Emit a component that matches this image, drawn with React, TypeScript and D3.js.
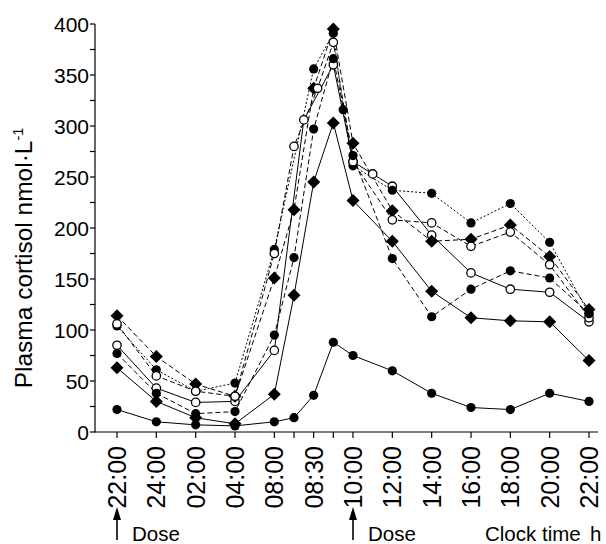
import * as d3 from 'd3';
import React, { useRef, useEffect } from 'react';

// x positions are in "slot" units along the clock-time axis (08:00 -> 10:00 is spread over half slots)
const tickPos = [0, 1, 2, 3, 4, 4.5, 5, 5.5, 6, 7, 8, 9, 10, 11, 12];
const tickLabels = ["22:00", "24:00", "02:00", "04:00", "08:00", "", "08:30", "", "10:00", "12:00", "14:00", "16:00", "18:00", "20:00", "22:00"];
const yTicks = [0, 50, 100, 150, 200, 250, 300, 350, 400];
const yMinor = [25, 75, 125, 175, 225, 275, 325, 375];

const s1T = tickPos;
const s1V = [22, 10, 7, 6, 10, 14, 36, 88, 75, 60, 38, 24, 22, 38, 30];
const s2T = tickPos;
const s2V = [63, 30, 14, 8, 37, 134, 245, 303, 227, 187, 138, 112, 109, 108, 70];
const s3T = [0, 1, 2, 3, 4, 4.75, 5.5, 6, 6.5, 7, 8, 9, 10, 11, 12];
const s3V = [85, 43, 29, 30, 80, 306, 360, 265, 253, 241, 193, 156, 140, 137, 108];
const s4T = [0, 1, 2, 3, 4, 5, 5.5, 5.75, 6, 7, 8, 9, 10, 11, 12];
const s4V = [104, 61, 40, 48, 179, 356, 391, 316, 261, 237, 234, 205, 224, 186, 116];
const s5T = tickPos;
const s5V = [114, 74, 47, 35, 151, 218, 337, 395, 283, 217, 187, 189, 203, 172, 120];
const s6T = [0, 1, 2, 3, 4, 4.5, 5.1, 5.5, 6, 7, 8, 9, 10, 11, 12];
const s6V = [106, 55, 40, 35, 175, 280, 337, 382, 265, 208, 205, 182, 196, 164, 112];
const s7T = tickPos;
const s7V = [77, 38, 18, 20, 95, 171, 297, 366, 271, 170, 113, 140, 158, 151, 116];

const series = [
    { t: s1T, v: s1V, dash: null, mark: "dot" },
    { t: s2T, v: s2V, dash: null, mark: "diamond" },
    { t: s3T, v: s3V, dash: null, mark: "open" },
    { t: s4T, v: s4V, dash: "2,2", mark: "dot" },
    { t: s5T, v: s5V, dash: "5,3", mark: "diamond" },
    { t: s6T, v: s6V, dash: "5,3", mark: "open" },
    { t: s7T, v: s7V, dash: "5,3", mark: "dot" },
];

const FONT = "'Liberation Sans', Arial, Helvetica, sans-serif";
const NARROW = "'Liberation Sans Narrow', 'Arial Narrow', 'Liberation Sans', sans-serif";

function Chart() {
    const ref = useRef(null);

    useEffect(() => {
        const svg = d3.select(ref.current);
        svg.selectAll('*').remove();

        const x = d3.scaleLinear().domain([0, 12]).range([117, 589]);
        const y = d3.scaleLinear().domain([0, 400]).range([432, 24]);
        const x0 = 95;

        // y axis
        svg.append("line").attr("x1", x0).attr("x2", x0).attr("y1", y(400)).attr("y2", y(0) + 0.5)
            .attr("stroke", "black").attr("stroke-width", 1.2);
        yTicks.concat(yMinor).forEach(v => {
            svg.append("line").attr("x1", x0 - 5).attr("x2", x0).attr("y1", y(v)).attr("y2", y(v))
                .attr("stroke", "black").attr("stroke-width", 1.2);
        });
        yTicks.forEach(v => {
            svg.append("text").attr("x", x0 - 6).attr("y", y(v)).attr("dy", "0.36em")
                .attr("text-anchor", "end").attr("font-family", FONT).attr("font-size", 21)
                .text(v);
        });

        // x axis
        svg.append("line").attr("x1", x0).attr("x2", 598).attr("y1", y(0)).attr("y2", y(0))
            .attr("stroke", "black").attr("stroke-width", 1.2);
        tickPos.forEach((p, i) => {
            svg.append("line").attr("x1", x(p)).attr("x2", x(p)).attr("y1", y(0)).attr("y2", y(0) + 6)
                .attr("stroke", "black").attr("stroke-width", 1.2);
            if (tickLabels[i]) {
                svg.append("text")
                    .attr("transform", "translate(" + x(p) + "," + 446 + ") rotate(-90)")
                    .attr("dy", "0.36em")
                    .attr("text-anchor", "end").attr("font-family", NARROW).attr("font-size", 25)
                    .text(tickLabels[i]);
            }
        });

        // y title
        const title = svg.append("text")
            .attr("transform", "translate(32,258) rotate(-90)")
            .attr("text-anchor", "middle").attr("font-family", FONT).attr("font-size", 24.5);
        title.append("tspan").text("Plasma cortisol nmol\u00B7L");
        title.append("tspan").attr("dy", -9).attr("font-size", 14.5).text("-1");

        // lines
        series.forEach(s => {
            const pts = s.t.map((t, i) => [x(t), y(s.v[i])]);
            svg.append("path")
                .attr("d", d3.line()(pts))
                .attr("fill", "none").attr("stroke", "black").attr("stroke-width", 1)
                .attr("stroke-dasharray", s.dash);
        });

        // markers
        series.forEach(s => {
            s.t.forEach((t, i) => {
                const cx = x(t), cy = y(s.v[i]);
                if (s.mark === "diamond") {
                    svg.append("path")
                        .attr("d", "M" + cx + "," + (cy - 6.5) + "L" + (cx + 6.5) + "," + cy + "L" + cx + "," + (cy + 6.5) + "L" + (cx - 6.5) + "," + cy + "Z")
                        .attr("fill", "black");
                } else if (s.mark === "open") {
                    svg.append("circle").attr("cx", cx).attr("cy", cy).attr("r", 4.2)
                        .attr("fill", "white").attr("stroke", "black").attr("stroke-width", 1.3);
                } else {
                    svg.append("circle").attr("cx", cx).attr("cy", cy).attr("r", 4.6).attr("fill", "black");
                }
            });
        });

        // dose arrows and x caption
        [0, 6].forEach(p => {
            const ax = x(p);
            svg.append("line").attr("x1", ax).attr("x2", ax).attr("y1", 518).attr("y2", 540)
                .attr("stroke", "black").attr("stroke-width", 1.6);
            svg.append("path")
                .attr("d", "M" + ax + ",507L" + (ax + 4) + ",520L" + (ax - 4) + ",520Z")
                .attr("fill", "black");
            svg.append("text").attr("x", ax + 15).attr("y", 541)
                .attr("font-family", FONT).attr("font-size", 20.5).text("Dose");
        });
        svg.append("text").attr("x", 485).attr("y", 541)
            .attr("font-family", FONT).attr("font-size", 20.5).text("Clock time");
        svg.append("text").attr("x", 590).attr("y", 541)
            .attr("font-family", FONT).attr("font-size", 20.5).text("h");
    }, []);

    return <svg ref={ref} width={606} height={544} style={{ display: "block" }}></svg>;
}

export default function App() {
    return (
        <div style={{ position: "absolute", left: 0, top: 0, background: "white" }}>
            <Chart />
        </div>
    );
}
